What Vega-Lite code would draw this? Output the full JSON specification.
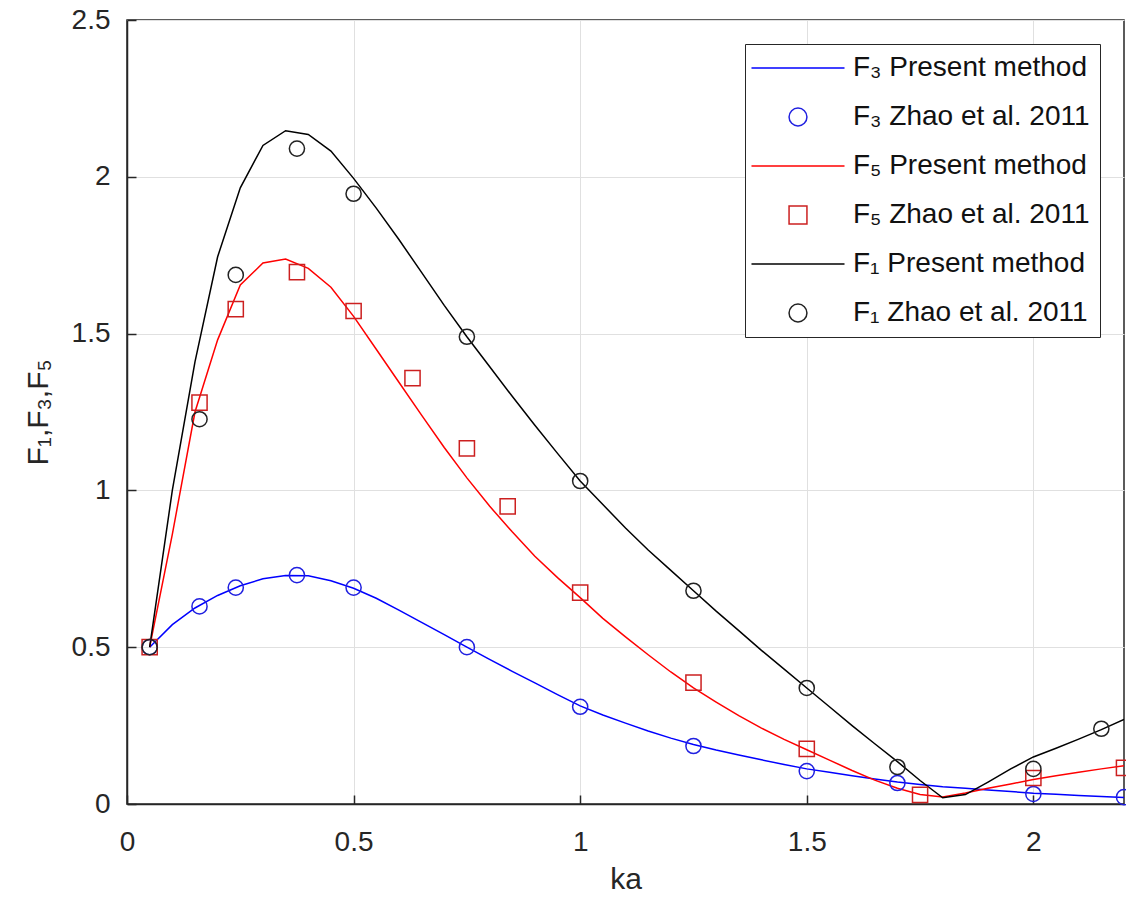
{
  "$schema": "https://vega.github.io/schema/vega-lite/v6.json",
  "width": 997,
  "height": 784,
  "autosize": "none",
  "padding": {"left": 127, "top": 20, "right": 2, "bottom": 93},
  "background": "white",
  "config": {
    "font": "Liberation Sans",
    "view": {"stroke": "#262626", "strokeWidth": 1.5},
    "axis": {
      "labelFont": "Liberation Sans",
      "labelFontSize": 28,
      "labelColor": "#262626",
      "labelFlush": false,
      "titleFont": "Liberation Sans",
      "titleFontSize": 30,
      "titleFontWeight": "normal",
      "titleColor": "#262626",
      "domainColor": "#262626",
      "domainWidth": 1.5,
      "tickColor": "#262626",
      "tickWidth": 1.5,
      "tickSize": -9,
      "gridColor": "#e0e0e0",
      "gridWidth": 1
    },
    "legend": {
      "labelFont": "Liberation Sans",
      "labelFontSize": 28,
      "labelColor": "#111111",
      "labelLimit": 400
    }
  },
  "data": {
    "values": [
      {"ka": 0.05, "F": 0.500, "s": "F₃ Present method", "k": "line"},
      {"ka": 0.10, "F": 0.572, "s": "F₃ Present method", "k": "line"},
      {"ka": 0.15, "F": 0.625, "s": "F₃ Present method", "k": "line"},
      {"ka": 0.20, "F": 0.665, "s": "F₃ Present method", "k": "line"},
      {"ka": 0.25, "F": 0.696, "s": "F₃ Present method", "k": "line"},
      {"ka": 0.30, "F": 0.718, "s": "F₃ Present method", "k": "line"},
      {"ka": 0.35, "F": 0.729, "s": "F₃ Present method", "k": "line"},
      {"ka": 0.40, "F": 0.728, "s": "F₃ Present method", "k": "line"},
      {"ka": 0.45, "F": 0.712, "s": "F₃ Present method", "k": "line"},
      {"ka": 0.50, "F": 0.688, "s": "F₃ Present method", "k": "line"},
      {"ka": 0.55, "F": 0.656, "s": "F₃ Present method", "k": "line"},
      {"ka": 0.60, "F": 0.618, "s": "F₃ Present method", "k": "line"},
      {"ka": 0.65, "F": 0.579, "s": "F₃ Present method", "k": "line"},
      {"ka": 0.70, "F": 0.540, "s": "F₃ Present method", "k": "line"},
      {"ka": 0.75, "F": 0.500, "s": "F₃ Present method", "k": "line"},
      {"ka": 0.80, "F": 0.461, "s": "F₃ Present method", "k": "line"},
      {"ka": 0.85, "F": 0.423, "s": "F₃ Present method", "k": "line"},
      {"ka": 0.90, "F": 0.386, "s": "F₃ Present method", "k": "line"},
      {"ka": 0.95, "F": 0.349, "s": "F₃ Present method", "k": "line"},
      {"ka": 1.00, "F": 0.313, "s": "F₃ Present method", "k": "line"},
      {"ka": 1.05, "F": 0.284, "s": "F₃ Present method", "k": "line"},
      {"ka": 1.10, "F": 0.258, "s": "F₃ Present method", "k": "line"},
      {"ka": 1.15, "F": 0.233, "s": "F₃ Present method", "k": "line"},
      {"ka": 1.20, "F": 0.210, "s": "F₃ Present method", "k": "line"},
      {"ka": 1.25, "F": 0.190, "s": "F₃ Present method", "k": "line"},
      {"ka": 1.30, "F": 0.172, "s": "F₃ Present method", "k": "line"},
      {"ka": 1.35, "F": 0.156, "s": "F₃ Present method", "k": "line"},
      {"ka": 1.40, "F": 0.141, "s": "F₃ Present method", "k": "line"},
      {"ka": 1.45, "F": 0.126, "s": "F₃ Present method", "k": "line"},
      {"ka": 1.50, "F": 0.112, "s": "F₃ Present method", "k": "line"},
      {"ka": 1.55, "F": 0.101, "s": "F₃ Present method", "k": "line"},
      {"ka": 1.60, "F": 0.090, "s": "F₃ Present method", "k": "line"},
      {"ka": 1.65, "F": 0.080, "s": "F₃ Present method", "k": "line"},
      {"ka": 1.70, "F": 0.070, "s": "F₃ Present method", "k": "line"},
      {"ka": 1.75, "F": 0.062, "s": "F₃ Present method", "k": "line"},
      {"ka": 1.80, "F": 0.055, "s": "F₃ Present method", "k": "line"},
      {"ka": 1.85, "F": 0.050, "s": "F₃ Present method", "k": "line"},
      {"ka": 1.90, "F": 0.045, "s": "F₃ Present method", "k": "line"},
      {"ka": 1.95, "F": 0.040, "s": "F₃ Present method", "k": "line"},
      {"ka": 2.00, "F": 0.034, "s": "F₃ Present method", "k": "line"},
      {"ka": 2.05, "F": 0.031, "s": "F₃ Present method", "k": "line"},
      {"ka": 2.10, "F": 0.027, "s": "F₃ Present method", "k": "line"},
      {"ka": 2.15, "F": 0.024, "s": "F₃ Present method", "k": "line"},
      {"ka": 2.20, "F": 0.021, "s": "F₃ Present method", "k": "line"},

      {"ka": 0.05, "F": 0.500, "s": "F₃ Zhao et al. 2011", "k": "pt"},
      {"ka": 0.16, "F": 0.630, "s": "F₃ Zhao et al. 2011", "k": "pt"},
      {"ka": 0.24, "F": 0.690, "s": "F₃ Zhao et al. 2011", "k": "pt"},
      {"ka": 0.375, "F": 0.730, "s": "F₃ Zhao et al. 2011", "k": "pt"},
      {"ka": 0.50, "F": 0.690, "s": "F₃ Zhao et al. 2011", "k": "pt"},
      {"ka": 0.75, "F": 0.500, "s": "F₃ Zhao et al. 2011", "k": "pt"},
      {"ka": 1.00, "F": 0.310, "s": "F₃ Zhao et al. 2011", "k": "pt"},
      {"ka": 1.25, "F": 0.185, "s": "F₃ Zhao et al. 2011", "k": "pt"},
      {"ka": 1.50, "F": 0.105, "s": "F₃ Zhao et al. 2011", "k": "pt"},
      {"ka": 1.70, "F": 0.067, "s": "F₃ Zhao et al. 2011", "k": "pt"},
      {"ka": 2.00, "F": 0.032, "s": "F₃ Zhao et al. 2011", "k": "pt"},
      {"ka": 2.20, "F": 0.022, "s": "F₃ Zhao et al. 2011", "k": "pt"},

      {"ka": 0.05, "F": 0.500, "s": "F₅ Present method", "k": "line"},
      {"ka": 0.10, "F": 0.860, "s": "F₅ Present method", "k": "line"},
      {"ka": 0.15, "F": 1.250, "s": "F₅ Present method", "k": "line"},
      {"ka": 0.20, "F": 1.480, "s": "F₅ Present method", "k": "line"},
      {"ka": 0.25, "F": 1.655, "s": "F₅ Present method", "k": "line"},
      {"ka": 0.30, "F": 1.725, "s": "F₅ Present method", "k": "line"},
      {"ka": 0.35, "F": 1.738, "s": "F₅ Present method", "k": "line"},
      {"ka": 0.40, "F": 1.708, "s": "F₅ Present method", "k": "line"},
      {"ka": 0.45, "F": 1.648, "s": "F₅ Present method", "k": "line"},
      {"ka": 0.50, "F": 1.555, "s": "F₅ Present method", "k": "line"},
      {"ka": 0.55, "F": 1.450, "s": "F₅ Present method", "k": "line"},
      {"ka": 0.60, "F": 1.345, "s": "F₅ Present method", "k": "line"},
      {"ka": 0.65, "F": 1.240, "s": "F₅ Present method", "k": "line"},
      {"ka": 0.70, "F": 1.137, "s": "F₅ Present method", "k": "line"},
      {"ka": 0.75, "F": 1.040, "s": "F₅ Present method", "k": "line"},
      {"ka": 0.80, "F": 0.950, "s": "F₅ Present method", "k": "line"},
      {"ka": 0.85, "F": 0.868, "s": "F₅ Present method", "k": "line"},
      {"ka": 0.90, "F": 0.790, "s": "F₅ Present method", "k": "line"},
      {"ka": 0.95, "F": 0.722, "s": "F₅ Present method", "k": "line"},
      {"ka": 1.00, "F": 0.658, "s": "F₅ Present method", "k": "line"},
      {"ka": 1.05, "F": 0.592, "s": "F₅ Present method", "k": "line"},
      {"ka": 1.10, "F": 0.533, "s": "F₅ Present method", "k": "line"},
      {"ka": 1.15, "F": 0.476, "s": "F₅ Present method", "k": "line"},
      {"ka": 1.20, "F": 0.421, "s": "F₅ Present method", "k": "line"},
      {"ka": 1.25, "F": 0.370, "s": "F₅ Present method", "k": "line"},
      {"ka": 1.30, "F": 0.325, "s": "F₅ Present method", "k": "line"},
      {"ka": 1.35, "F": 0.282, "s": "F₅ Present method", "k": "line"},
      {"ka": 1.40, "F": 0.242, "s": "F₅ Present method", "k": "line"},
      {"ka": 1.45, "F": 0.206, "s": "F₅ Present method", "k": "line"},
      {"ka": 1.50, "F": 0.173, "s": "F₅ Present method", "k": "line"},
      {"ka": 1.55, "F": 0.140, "s": "F₅ Present method", "k": "line"},
      {"ka": 1.60, "F": 0.107, "s": "F₅ Present method", "k": "line"},
      {"ka": 1.65, "F": 0.076, "s": "F₅ Present method", "k": "line"},
      {"ka": 1.70, "F": 0.050, "s": "F₅ Present method", "k": "line"},
      {"ka": 1.75, "F": 0.030, "s": "F₅ Present method", "k": "line"},
      {"ka": 1.80, "F": 0.022, "s": "F₅ Present method", "k": "line"},
      {"ka": 1.85, "F": 0.035, "s": "F₅ Present method", "k": "line"},
      {"ka": 1.90, "F": 0.050, "s": "F₅ Present method", "k": "line"},
      {"ka": 1.95, "F": 0.064, "s": "F₅ Present method", "k": "line"},
      {"ka": 2.00, "F": 0.078, "s": "F₅ Present method", "k": "line"},
      {"ka": 2.05, "F": 0.090, "s": "F₅ Present method", "k": "line"},
      {"ka": 2.10, "F": 0.101, "s": "F₅ Present method", "k": "line"},
      {"ka": 2.15, "F": 0.112, "s": "F₅ Present method", "k": "line"},
      {"ka": 2.20, "F": 0.122, "s": "F₅ Present method", "k": "line"},

      {"ka": 0.05, "F": 0.500, "s": "F₅ Zhao et al. 2011", "k": "pt"},
      {"ka": 0.16, "F": 1.280, "s": "F₅ Zhao et al. 2011", "k": "pt"},
      {"ka": 0.24, "F": 1.578, "s": "F₅ Zhao et al. 2011", "k": "pt"},
      {"ka": 0.375, "F": 1.696, "s": "F₅ Zhao et al. 2011", "k": "pt"},
      {"ka": 0.50, "F": 1.572, "s": "F₅ Zhao et al. 2011", "k": "pt"},
      {"ka": 0.63, "F": 1.358, "s": "F₅ Zhao et al. 2011", "k": "pt"},
      {"ka": 0.75, "F": 1.134, "s": "F₅ Zhao et al. 2011", "k": "pt"},
      {"ka": 0.84, "F": 0.949, "s": "F₅ Zhao et al. 2011", "k": "pt"},
      {"ka": 1.00, "F": 0.674, "s": "F₅ Zhao et al. 2011", "k": "pt"},
      {"ka": 1.25, "F": 0.387, "s": "F₅ Zhao et al. 2011", "k": "pt"},
      {"ka": 1.50, "F": 0.176, "s": "F₅ Zhao et al. 2011", "k": "pt"},
      {"ka": 1.75, "F": 0.029, "s": "F₅ Zhao et al. 2011", "k": "pt"},
      {"ka": 2.00, "F": 0.083, "s": "F₅ Zhao et al. 2011", "k": "pt"},
      {"ka": 2.20, "F": 0.115, "s": "F₅ Zhao et al. 2011", "k": "pt"},

      {"ka": 0.05, "F": 0.500, "s": "F₁ Present method", "k": "line"},
      {"ka": 0.10, "F": 1.000, "s": "F₁ Present method", "k": "line"},
      {"ka": 0.15, "F": 1.410, "s": "F₁ Present method", "k": "line"},
      {"ka": 0.20, "F": 1.745, "s": "F₁ Present method", "k": "line"},
      {"ka": 0.25, "F": 1.965, "s": "F₁ Present method", "k": "line"},
      {"ka": 0.30, "F": 2.100, "s": "F₁ Present method", "k": "line"},
      {"ka": 0.35, "F": 2.147, "s": "F₁ Present method", "k": "line"},
      {"ka": 0.40, "F": 2.135, "s": "F₁ Present method", "k": "line"},
      {"ka": 0.45, "F": 2.082, "s": "F₁ Present method", "k": "line"},
      {"ka": 0.50, "F": 1.995, "s": "F₁ Present method", "k": "line"},
      {"ka": 0.55, "F": 1.900, "s": "F₁ Present method", "k": "line"},
      {"ka": 0.60, "F": 1.800, "s": "F₁ Present method", "k": "line"},
      {"ka": 0.65, "F": 1.695, "s": "F₁ Present method", "k": "line"},
      {"ka": 0.70, "F": 1.590, "s": "F₁ Present method", "k": "line"},
      {"ka": 0.75, "F": 1.490, "s": "F₁ Present method", "k": "line"},
      {"ka": 0.80, "F": 1.395, "s": "F₁ Present method", "k": "line"},
      {"ka": 0.85, "F": 1.300, "s": "F₁ Present method", "k": "line"},
      {"ka": 0.90, "F": 1.208, "s": "F₁ Present method", "k": "line"},
      {"ka": 0.95, "F": 1.118, "s": "F₁ Present method", "k": "line"},
      {"ka": 1.00, "F": 1.030, "s": "F₁ Present method", "k": "line"},
      {"ka": 1.05, "F": 0.955, "s": "F₁ Present method", "k": "line"},
      {"ka": 1.10, "F": 0.880, "s": "F₁ Present method", "k": "line"},
      {"ka": 1.15, "F": 0.810, "s": "F₁ Present method", "k": "line"},
      {"ka": 1.20, "F": 0.745, "s": "F₁ Present method", "k": "line"},
      {"ka": 1.25, "F": 0.680, "s": "F₁ Present method", "k": "line"},
      {"ka": 1.30, "F": 0.615, "s": "F₁ Present method", "k": "line"},
      {"ka": 1.35, "F": 0.553, "s": "F₁ Present method", "k": "line"},
      {"ka": 1.40, "F": 0.490, "s": "F₁ Present method", "k": "line"},
      {"ka": 1.45, "F": 0.430, "s": "F₁ Present method", "k": "line"},
      {"ka": 1.50, "F": 0.370, "s": "F₁ Present method", "k": "line"},
      {"ka": 1.55, "F": 0.310, "s": "F₁ Present method", "k": "line"},
      {"ka": 1.60, "F": 0.250, "s": "F₁ Present method", "k": "line"},
      {"ka": 1.65, "F": 0.192, "s": "F₁ Present method", "k": "line"},
      {"ka": 1.70, "F": 0.135, "s": "F₁ Present method", "k": "line"},
      {"ka": 1.75, "F": 0.075, "s": "F₁ Present method", "k": "line"},
      {"ka": 1.80, "F": 0.020, "s": "F₁ Present method", "k": "line"},
      {"ka": 1.85, "F": 0.030, "s": "F₁ Present method", "k": "line"},
      {"ka": 1.90, "F": 0.070, "s": "F₁ Present method", "k": "line"},
      {"ka": 1.95, "F": 0.112, "s": "F₁ Present method", "k": "line"},
      {"ka": 2.00, "F": 0.150, "s": "F₁ Present method", "k": "line"},
      {"ka": 2.05, "F": 0.178, "s": "F₁ Present method", "k": "line"},
      {"ka": 2.10, "F": 0.207, "s": "F₁ Present method", "k": "line"},
      {"ka": 2.15, "F": 0.237, "s": "F₁ Present method", "k": "line"},
      {"ka": 2.20, "F": 0.270, "s": "F₁ Present method", "k": "line"},

      {"ka": 0.05, "F": 0.500, "s": "F₁ Zhao et al. 2011", "k": "pt"},
      {"ka": 0.16, "F": 1.227, "s": "F₁ Zhao et al. 2011", "k": "pt"},
      {"ka": 0.24, "F": 1.687, "s": "F₁ Zhao et al. 2011", "k": "pt"},
      {"ka": 0.375, "F": 2.090, "s": "F₁ Zhao et al. 2011", "k": "pt"},
      {"ka": 0.50, "F": 1.946, "s": "F₁ Zhao et al. 2011", "k": "pt"},
      {"ka": 0.75, "F": 1.490, "s": "F₁ Zhao et al. 2011", "k": "pt"},
      {"ka": 1.00, "F": 1.030, "s": "F₁ Zhao et al. 2011", "k": "pt"},
      {"ka": 1.25, "F": 0.680, "s": "F₁ Zhao et al. 2011", "k": "pt"},
      {"ka": 1.50, "F": 0.370, "s": "F₁ Zhao et al. 2011", "k": "pt"},
      {"ka": 1.70, "F": 0.118, "s": "F₁ Zhao et al. 2011", "k": "pt"},
      {"ka": 2.00, "F": 0.112, "s": "F₁ Zhao et al. 2011", "k": "pt"},
      {"ka": 2.15, "F": 0.240, "s": "F₁ Zhao et al. 2011", "k": "pt"}
    ]
  },
  "encoding": {
    "x": {
      "field": "ka", "type": "quantitative",
      "scale": {"domain": [0, 2.2], "nice": false, "zero": false},
      "axis": {"values": [0, 0.5, 1, 1.5, 2], "format": "~g", "grid": true, "labelPadding": 33, "title": "ka", "titlePadding": 8}
    },
    "y": {
      "field": "F", "type": "quantitative",
      "scale": {"domain": [0, 2.5], "nice": false},
      "axis": {"values": [0, 0.5, 1, 1.5, 2, 2.5], "format": "~g", "grid": true, "labelPadding": 26, "title": "F₁,F₃,F₅", "titlePadding": 18}
    },
    "color": {
      "field": "s", "type": "nominal",
      "scale": {
        "domain": ["F₃ Present method", "F₃ Zhao et al. 2011", "F₅ Present method", "F₅ Zhao et al. 2011", "F₁ Present method", "F₁ Zhao et al. 2011"],
        "range": ["#0000ff", "#2020e0", "#ff0000", "#cc2020", "#000000", "#222222"]
      },
      "legend": {
        "title": null,
        "orient": "top-right",
        "offset": 24,
        "padding": 10,
        "strokeColor": "#262626",
        "fillColor": "white",
        "symbolSize": 320,
        "symbolStrokeWidth": 1.5,
        "symbolOffset": 29,
        "rowPadding": 21,
        "labelOffset": 41
      }
    }
  },
  "layer": [
    {
      "transform": [{"filter": "datum.k == 'line'"}],
      "mark": {"type": "line", "strokeWidth": 1.5, "clip": true}
    },
    {
      "transform": [{"filter": "datum.k == 'pt'"}],
      "mark": {"type": "point", "filled": false, "size": 230, "strokeWidth": 1.5, "opacity": 1},
      "encoding": {
        "shape": {
          "field": "s", "type": "nominal",
          "scale": {
            "domain": ["F₃ Present method", "F₃ Zhao et al. 2011", "F₅ Present method", "F₅ Zhao et al. 2011", "F₁ Present method", "F₁ Zhao et al. 2011"],
            "range": ["M-5.2,0L5.2,0", "circle", "M-5.2,0L5.2,0", "square", "M-5.2,0L5.2,0", "circle"]
          }
        }
      }
    }
  ]
}
